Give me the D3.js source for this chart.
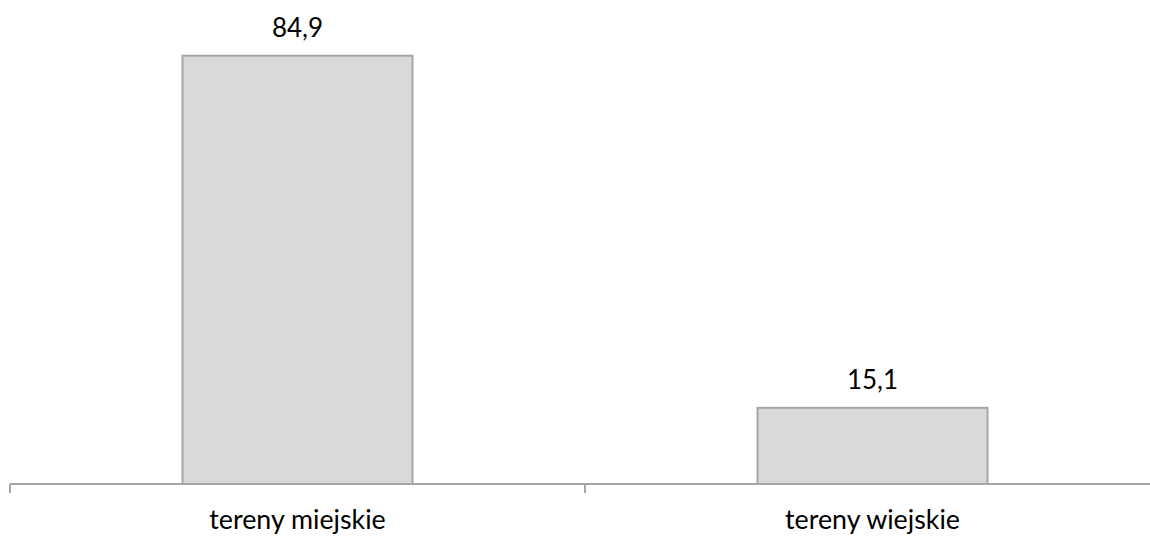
<!DOCTYPE html>
<html>
<head>
<meta charset="utf-8">
<script src="https://cdn.jsdelivr.net/npm/d3@7"></script>
<style>
  html, body { margin: 0; padding: 0; background: #fff; }
  svg { display: block; }
  text { font-family: Lato, "Open Sans", sans-serif; fill: #000; }
</style>
</head>
<body>
<svg id="chart" width="1150" height="536"></svg>
<script>
// Share of population (%) by area type
const categories = ["tereny miejskie", "tereny wiejskie"];
const values = [84.9, 15.1];
const valueLabels = ["84,9", "15,1"];

const svg = d3.select("#chart");
const baseY = 484;

const x = d3.scaleBand().domain(categories).range([10, 1160]).padding(0);
const y = d3.scaleLinear().domain([0, 90]).range([baseY, 30]);

const barW = x.bandwidth() * 0.4;

// bars
svg.selectAll("rect.bar")
  .data(categories)
  .join("rect")
  .attr("class", "bar")
  .attr("x", d => x(d) + (x.bandwidth() - barW) / 2)
  .attr("y", (d, i) => y(values[i]))
  .attr("width", barW)
  .attr("height", (d, i) => baseY - y(values[i]))
  .attr("fill", "#d9d9d9")
  .attr("stroke", "#a6a6a6")
  .attr("stroke-width", 2);

// value labels
svg.selectAll("text.val")
  .data(categories)
  .join("text")
  .attr("class", "val")
  .attr("x", d => x(d) + x.bandwidth() / 2)
  .attr("y", (d, i) => y(values[i]) - 19)
  .attr("text-anchor", "middle")
  .attr("font-size", 26)
  .text((d, i) => valueLabels[i]);

// category axis with ticks on band boundaries
const axisG = svg.append("g");
axisG.append("line")
  .attr("x1", x.range()[0]).attr("x2", x.range()[1])
  .attr("y1", baseY).attr("y2", baseY)
  .attr("stroke", "#a6a6a6").attr("stroke-width", 2);
const bounds = categories.map(d => x(d)).concat([x.range()[1]]);
axisG.selectAll("line.tick")
  .data(bounds)
  .join("line")
  .attr("class", "tick")
  .attr("x1", d => d).attr("x2", d => d)
  .attr("y1", baseY).attr("y2", baseY + 9)
  .attr("stroke", "#a6a6a6").attr("stroke-width", 2);

svg.selectAll("text.cat")
  .data(categories)
  .join("text")
  .attr("class", "cat")
  .attr("x", d => x(d) + x.bandwidth() / 2)
  .attr("y", 529)
  .attr("text-anchor", "middle")
  .attr("font-size", 26.8)
  .text(d => d);
</script>
</body>
</html>
